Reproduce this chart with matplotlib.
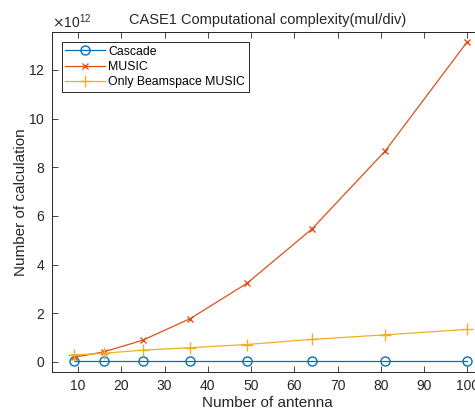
import numpy as np
import matplotlib.pyplot as plt
from matplotlib.ticker import ScalarFormatter

plt.rcParams['font.family'] = ['Liberation Sans', 'DejaVu Sans']

antenna = [9, 16, 25, 36, 49, 64, 81, 100]
cascade = [0.03e12, 0.03e12, 0.03e12, 0.03e12, 0.03e12, 0.03e12, 0.03e12, 0.03e12]
music = [0.18e12, 0.41e12, 0.89e12, 1.78e12, 3.22e12, 5.45e12, 8.67e12, 13.17e12]
beamspace = [0.28e12, 0.35e12, 0.48e12, 0.58e12, 0.71e12, 0.92e12, 1.11e12, 1.33e12]

W, H = 475, 412
fig = plt.figure(figsize=(W / 100, H / 100), dpi=100)
ax = fig.add_axes([52 / W, (H - 372) / H, (483 - 52) / W, (372 - 32.3) / H])

ax.plot(antenna, cascade, '-o', color='#0072BD', lw=0.9, ms=6.5, mfc='none', mew=1.0, label='Cascade')
ax.plot(antenna, music, '-x', color='#D95319', lw=0.9, ms=5, mew=1.0, label='MUSIC')
ax.plot(antenna, beamspace, '-+', color='#EDB120', lw=0.9, ms=8, mew=1.0, label='Only Beamspace MUSIC')

ax.set_xlim(4.0, 103.6)
ax.set_ylim(-0.42e12, 13.55e12)
ax.set_xticks(np.arange(10, 101, 10))
ax.set_yticks(np.arange(0, 13e12, 2e12))

fmt = ScalarFormatter(useMathText=True)
fmt.set_powerlimits((12, 12))
ax.yaxis.set_major_formatter(fmt)
ax.yaxis.get_offset_text().set_fontsize(10)
ax.yaxis.get_offset_text().set_color('#262626')

ax.tick_params(direction='in', top=True, right=True, length=4, width=0.6,
               labelsize=10, colors='#262626', pad=5)
for s in ax.spines.values():
    s.set_color('#262626')
    s.set_linewidth(0.7)

ax.set_xlabel('Number of antenna', fontsize=11, color='#262626', labelpad=2)
ax.set_ylabel('Number of calculation', fontsize=11, color='#262626', labelpad=0)
ax.set_title('CASE1 Computational complexity(mul/div)', fontsize=10.5, color='#262626', pad=6)

leg = ax.legend(loc='upper left', fontsize=8.8, fancybox=False, edgecolor='#262626',
                framealpha=1, borderpad=0.3, labelspacing=0.25, handlelength=3.2,
                handletextpad=0.3, borderaxespad=0.8)
leg.get_frame().set_linewidth(0.7)

fig.savefig('out.png', dpi=100)
